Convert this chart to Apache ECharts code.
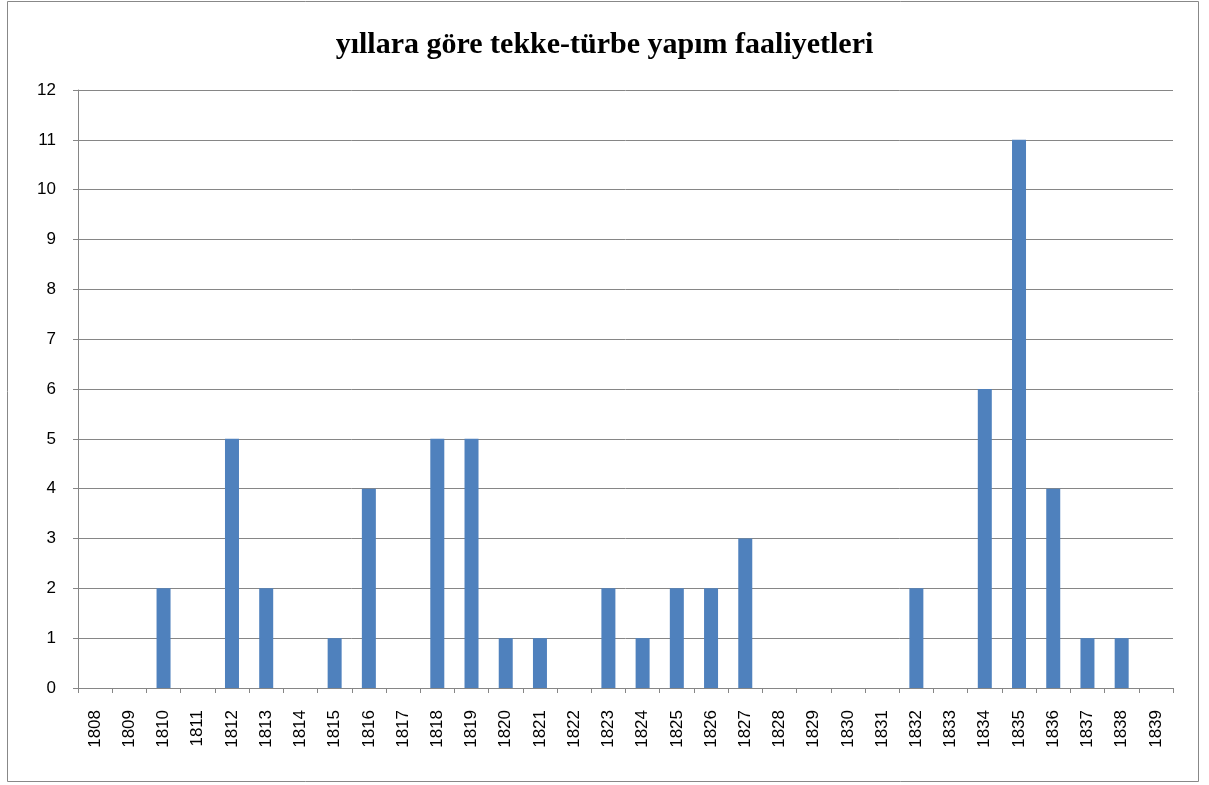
<!DOCTYPE html>
<html><head><meta charset="utf-8">
<script src="https://cdn.jsdelivr.net/npm/echarts@6/dist/echarts.min.js"></script>
<style>html,body{margin:0;padding:0;background:#fff}#c{width:1209px;height:785px}</style>
</head><body><div id="c"></div>
<script>
var years = ['1808','1809','1810','1811','1812','1813','1814','1815','1816','1817','1818','1819','1820','1821','1822','1823','1824','1825','1826','1827','1828','1829','1830','1831','1832','1833','1834','1835','1836','1837','1838','1839'];
var counts = [0,0,2,0,5,2,0,1,4,0,5,5,1,1,0,2,1,2,2,3,0,0,0,0,2,0,6,11,4,1,1,0];
var titleText = 'yıllara göre tekke-türbe yapım faaliyetleri';

var chart = echarts.init(document.getElementById('c'));
chart.setOption({
  animation: false,
  title: {
    text: titleText, left: 'center', top: 25,
    textStyle: {fontFamily: 'Liberation Serif', fontWeight: 'bold', fontSize: 30, color: '#000'}
  },
  graphic: [{type: 'rect', shape: {x: 7.5, y: 1.5, width: 1191, height: 780}, style: {fill: 'none', stroke: '#888', lineWidth: 1}, silent: true}],
  grid: {left: 78, right: 36, top: 90, bottom: 97},
  xAxis: {
    type: 'category', data: years,
    axisLine: {lineStyle: {color: '#868686'}},
    axisTick: {show: true, length: 5, lineStyle: {color: '#868686'}},
    axisLabel: {rotate: 90, margin: 22, fontFamily: 'Liberation Sans', fontSize: 17, color: '#000', interval: 0}
  },
  yAxis: {
    type: 'value', min: 0, max: 12, interval: 1,
    axisLine: {show: true, lineStyle: {color: '#868686'}},
    axisTick: {show: true, length: 5, lineStyle: {color: '#868686'}},
    axisLabel: {fontFamily: 'Liberation Sans', fontSize: 17, color: '#000', margin: 22},
    splitLine: {lineStyle: {color: '#868686'}}
  },
  series: [{type: 'bar', data: counts, barWidth: 14, itemStyle: {color: '#4f81bd'}}]
});
</script></body></html>
